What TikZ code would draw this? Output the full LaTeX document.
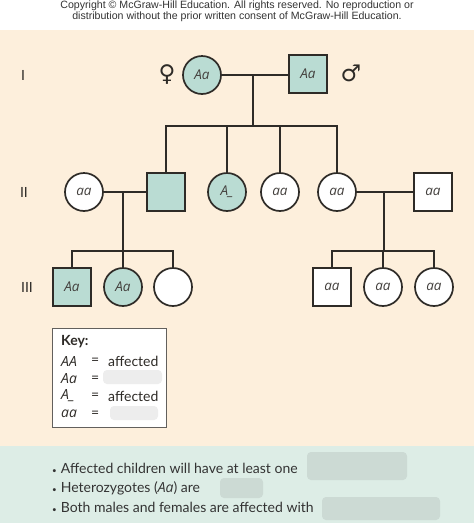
\documentclass[tikz,border=0pt]{standalone}
\usepackage{fontspec}
\setmainfont{Lato}
\newfontfamily\cpyfont{Liberation Sans}
\newfontfamily\symfont{DejaVu Sans}
\newfontfamily\genofont{Open Sans}
\definecolor{lc}{HTML}{2E2B27}
\definecolor{beige}{HTML}{FDEFDC}
\definecolor{teal}{HTML}{BADCD3}
\definecolor{mint}{HTML}{DDEDE6}
\definecolor{txt}{HTML}{333333}
\definecolor{blurA}{HTML}{EDEDED}
\definecolor{blurB}{HTML}{CCDAD4}
\begin{document}
\begin{tikzpicture}[x=1pt,y=-1pt,
  ln/.style={draw=lc,line width=1.7pt},
  geno/.style={font=\genofont\itshape\fontsize{13.5}{14}\selectfont,text=lc!90},
  fem/.style={circle,draw=lc,line width=1.7pt,minimum size=38pt,inner sep=0pt,geno},
  mal/.style={rectangle,draw=lc,line width=1.7pt,minimum size=38pt,inner sep=0pt,geno},
  aff/.style={fill=teal},
  un/.style={fill=white},
  gen/.style={font=\fontsize{14}{14}\selectfont,text=lc},
  keyt/.style={font=\fontsize{14}{15}\selectfont,text=lc,anchor=west,inner sep=0pt},
  kgeno/.style={keyt,font=\genofont\itshape\fontsize{14}{15}\selectfont},
  bul/.style={font=\fontsize{14}{15}\selectfont,text=txt,anchor=west,inner sep=0pt},
  blur/.style={rounded corners=4pt}
]
\useasboundingbox (0,0) rectangle (474,523);
\fill[white] (0,0) rectangle (474,30);
\fill[beige] (0,30) rectangle (474,446);
\fill[mint] (0,446) rectangle (474,523);

% copyright
\node[font=\cpyfont\fontsize{10.6}{11.2}\selectfont,text=txt,align=center,inner sep=0pt] (cpy) at (237,11.5)
  {Copyright \textcopyright{} McGraw-Hill Education. All rights reserved. No reproduction or\\distribution without the prior written consent of McGraw-Hill Education.};

% generation labels
\node[gen] (g1) at (23,75) {I};
\node[gen] (g2) at (24,192) {II};
\node[gen] (g3) at (27,287) {III};

% generation I
\node[fem,aff] (f1) at (202,75) {Aa};
\node[mal,aff] (m1) at (308,74) {Aa};
\node[font=\symfont\fontsize{23}{23}\selectfont,text=lc] (venus) at (167,75) {♀};
\node[font=\symfont\fontsize{23}{23}\selectfont,text=lc] (mars) at (351,73) {♂};

% generation II
\node[fem,un] (f21) at (84,192) {aa};
\node[mal,aff] (m22) at (166,192) {};
\node[fem,aff] (f23) at (227,192) {A\_};
\node[fem,un] (f24) at (280,192) {aa};
\node[fem,un] (f25) at (337,192) {aa};
\node[mal,un] (m26) at (433,192) {aa};

% generation III
\node[mal,aff] (m31) at (72,287) {Aa};
\node[fem,aff] (f32) at (123,287) {Aa};
\node[fem,un] (f33) at (173,287) {};
\node[mal,un] (m34) at (332,287) {aa};
\node[fem,un] (f35) at (383,287) {aa};
\node[fem,un] (f36) at (434,287) {aa};

% connectors I
\coordinate (c1) at (253,75);
\coordinate (s1) at (253,126);
\draw[ln] (f1.east) -- (m1.west |- f1.east);
\draw[ln] (c1) -- (s1);
\draw[ln] (m22.north) |- (s1) -| (f25.north);
\draw[ln] (f23.north) -- (f23.north |- s1);
\draw[ln] (f24.north) -- (f24.north |- s1);

% connectors II left
\coordinate (c2) at (123,192);
\coordinate (s2) at (123,251);
\draw[ln] (f21.east) -- (m22.west);
\draw[ln] (c2) -- (s2);
\draw[ln] (m31.north) |- (s2) -| (f33.north);
\draw[ln] (f32.north) -- (f32.north |- s2);

% connectors II right
\coordinate (c3) at (384,192);
\coordinate (s3) at (384,251);
\draw[ln] (f25.east) -- (m26.west);
\draw[ln] (c3) -- (s3);
\draw[ln] (m34.north) |- (s3) -| (f36.north);
\draw[ln] (f35.north) -- (f35.north |- s3);

% key box
\draw[draw=lc!75,line width=0.9pt,fill=white] (52,328) rectangle (166,427);
\fill[blurA,blur] (103,370) rectangle (162,384);
\fill[blurA,blur] (110,406) rectangle (158,420);
\node[keyt,font=\bfseries\fontsize{14}{15}\selectfont] (key) at (61,342) {Key:};
\node[kgeno] (k1) at (61,361) {AA};
\node[kgeno] (k2) at (61,379) {Aa};
\node[kgeno] (k3) at (61,396) {A\_};
\node[kgeno] (k4) at (61,414) {aa};
\node[keyt] (e1) at (91,361) {=};
\node[keyt] (e2) at (91,379) {=};
\node[keyt] (e3) at (91,396) {=};
\node[keyt] (e4) at (91,414) {=};
\node[keyt] (a1) at (108,361) {affected};
\node[keyt] (a3) at (108,396) {affected};

% bottom notes
\fill[blurB,blur] (307,452) rectangle (407,480);
\fill[blurB,blur] (220,478) rectangle (263,498);
\fill[blurB,blur] (322,497) rectangle (440,520);
\node[bul] (b1) at (52,468) {{\fontsize{8}{8}\selectfont•}\hspace{4pt}Affected children will have at least one};
\node[bul] (b2) at (52,488) {{\fontsize{8}{8}\selectfont•}\hspace{4pt}Heterozygotes ({\genofont\itshape Aa}) are};
\node[bul] (b3) at (52,507) {{\fontsize{8}{8}\selectfont•}\hspace{4pt}Both males and females are affected with};
\end{tikzpicture}
\end{document}
